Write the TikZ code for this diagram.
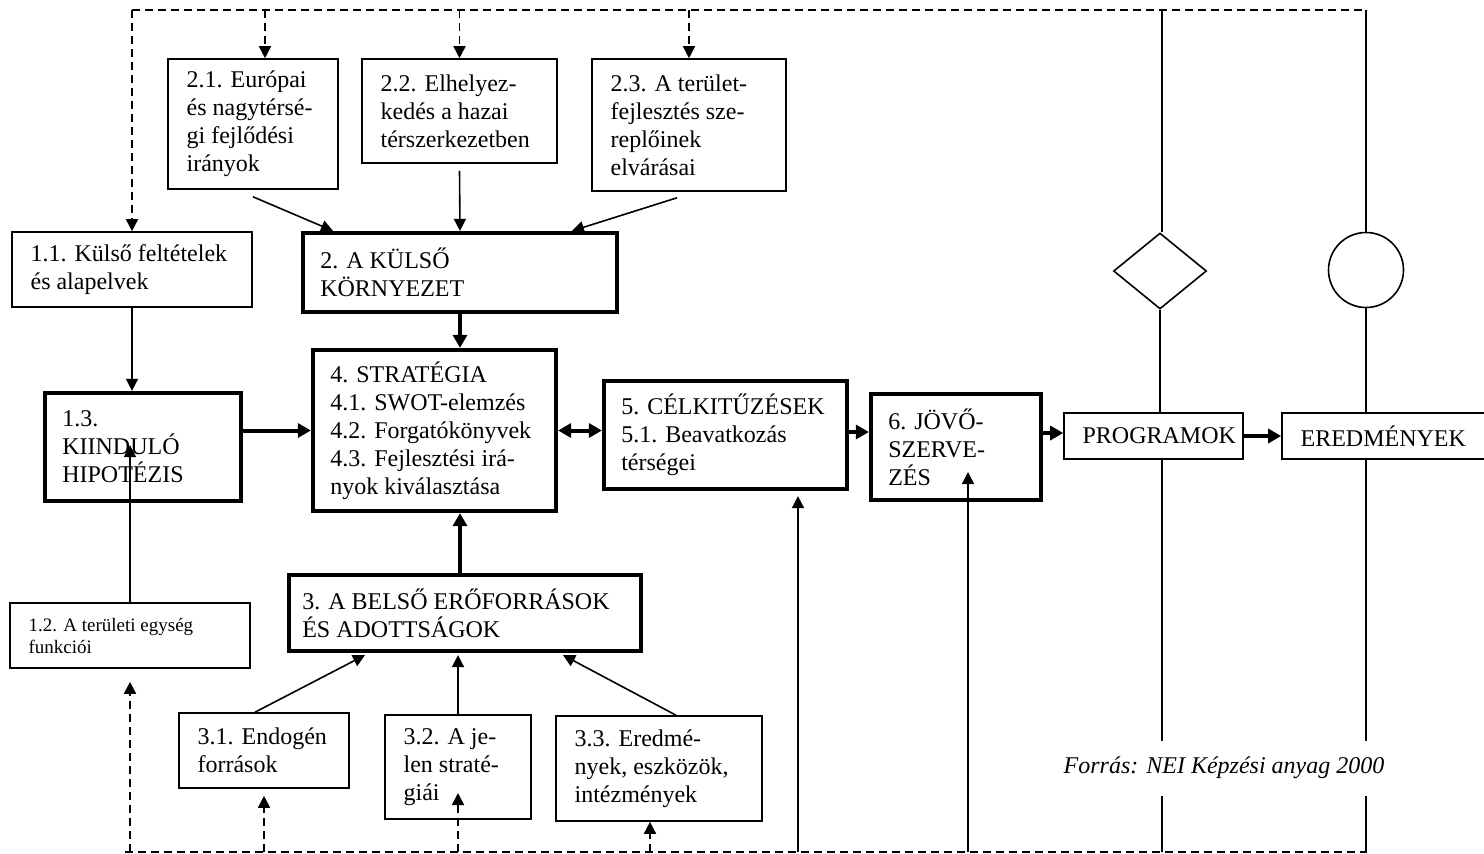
\documentclass[tikz,border=0pt]{standalone}
\usepackage{fontspec}
\setmainfont{Liberation Serif}
\usetikzlibrary{arrows.meta,shapes.geometric,calc}

% \mkbox{style}{name}{x1}{y1}{x2}{y2}: an empty box spanning the given corners
\newcommand\mkbox[6]{%
  \pgfmathsetmacro\mkboxw{(#5-#3)*0.5}%
  \pgfmathsetmacro\mkboxh{(#6-#4)*0.5}%
  \node[#1, minimum width=\mkboxw pt, minimum height=\mkboxh pt] (#2) at ({(#3+#5)/2},{(#4+#6)/2}) {};}

\begin{document}
\begin{tikzpicture}[x=0.5pt,y=-0.5pt,
  thinbox/.style={draw, line width=0.8pt, inner sep=0pt, rectangle},
  thickbox/.style={draw, line width=2.1pt, inner sep=0pt, rectangle},
  txt/.style={anchor=west, align=left, inner sep=0pt, xshift=9.5pt,
              font=\fontsize{12}{14}\selectfont},
  smalltxt/.style={txt, font=\fontsize{9.5}{11}\selectfont},
  conn/.style={line width=0.8pt, -{Triangle[length=6pt,width=6pt]}},
  bus/.style={line width=0.8pt, dash pattern=on 4pt off 2.5pt},
  busarrow/.style={bus, -{Triangle[length=6pt,width=6pt]}},
  rail/.style={line width=0.8pt},
  flow/.style={line width=2pt, -{Triangle[length=6.5pt,width=7pt]}},
  flowboth/.style={line width=2pt, {Triangle[length=6.5pt,width=7pt]}-{Triangle[length=6.5pt,width=7pt]}}]

\useasboundingbox (0,0) rectangle (1484,853);

% ---- boxes ----
\mkbox{thinbox}{b21}{168}{59}{338}{189}
\mkbox{thinbox}{b22}{362}{59}{557}{163}
\mkbox{thinbox}{b23}{592}{59}{786}{191}
\mkbox{thinbox}{b11}{12}{232}{252}{307}
\mkbox{thickbox}{b2}{303}{233}{617}{312}
\mkbox{thickbox}{b13}{45}{393}{241}{501}
\mkbox{thickbox}{b4}{313}{350}{556}{511}
\mkbox{thickbox}{b5}{604}{381}{847}{489}
\mkbox{thickbox}{b6}{871}{394}{1041}{500}
\mkbox{thinbox}{bP}{1064}{413}{1243}{459}
\mkbox{thinbox}{bE}{1282}{413}{1490}{459}
\mkbox{thickbox}{b3}{289}{575}{641}{651}
\mkbox{thinbox}{b12}{10}{603}{250}{668}
\mkbox{thinbox}{b31}{179}{713}{349}{788}
\mkbox{thinbox}{b32}{385}{715}{531}{819}
\mkbox{thinbox}{b33}{556}{716}{762}{821}

% ---- box texts ----
\node[txt] (t21) at (b21.west) {2.1. Európai\\és nagytérsé-\\gi fejlődési\\irányok};
\node[txt] (t22) at (b22.west) {2.2. Elhelyez-\\kedés a hazai\\térszerkezetben};
\node[txt] (t23) at (b23.west) {2.3. A terület-\\fejlesztés sze-\\replőinek\\elvárásai};
\node[txt] (t11) at (b11.west) {1.1. Külső feltételek\\és alapelvek};
\node[txt] (t2)  at (b2.west)  {2. A KÜLSŐ\\KÖRNYEZET};
\node[txt] (t13) at (b13.west) {1.3.\\KIINDULÓ\\HIPOTÉZIS};
\node[txt] (t4)  at (b4.west)  {4. STRATÉGIA\\4.1. SWOT-elemzés\\4.2. Forgatókönyvek\\4.3. Fejlesztési irá-\\nyok kiválasztása};
\node[txt] (t5)  at (b5.west)  {5. CÉLKITŰZÉSEK\\5.1. Beavatkozás\\térségei};
\node[txt] (t6)  at (b6.west)  {6. JÖVŐ-\\SZERVE-\\ZÉS};
\node[txt] (tP)  at (bP.west)  {PROGRAMOK};
\node[txt] (tE)  at (bE.west)  {EREDMÉNYEK};
\node[txt, xshift=-2pt] (t3) at (b3.west) {3. A BELSŐ ERŐFORRÁSOK\\ÉS ADOTTSÁGOK};
\node[smalltxt] (t12) at (b12.west) {1.2. A területi egység\\funkciói};
\node[txt] (t31) at (b31.west) {3.1. Endogén\\források};
\node[txt] (t32) at (b32.west) {3.2. A je-\\len straté-\\giái};
\node[txt] (t33) at (b33.west) {3.3. Eredmé-\\nyek, eszközök,\\intézmények};

% ---- symbols on the two right-hand rails ----
\node[draw, line width=0.8pt, diamond, inner sep=0pt, minimum width=46.5pt, minimum height=38pt] (dia) at (1160,271) {};
\node[draw, line width=0.8pt, circle, inner sep=0pt, minimum size=37.5pt] (circ) at (1366,270) {};

% ---- bus ends ----
\coordinate (topL) at (132,10);
\coordinate (topR) at (1367,10);
\coordinate (botL) at (125,852);
\coordinate (botR) at (1367,852);
\coordinate (railA) at (1162,10);
\coordinate (railB) at (1366,10);

% top feedback bus
\draw[bus] (topL) -- (topR);
\draw[busarrow] (topL) -- (topL |- b11.north);
\coordinate (tap21) at (265,10);
\draw[busarrow] (tap21) -- (tap21 |- b21.north);
\draw[busarrow] (b22.north |- topL) -- (b22.north);
\draw[busarrow] (b23.north |- topL) -- (b23.north);

% bottom feedback bus
\draw[bus] (botL) -- (botR);
\coordinate (u12) at (130,852);
\draw[busarrow] (u12) -- ($(u12 |- b12.south)+(0,13)$);
\draw[busarrow] (b31.south |- botL) -- ($(b31.south)+(0,7)$);
\coordinate (u32tip) at (458,793);
\draw[busarrow] (b32.south |- botL) -- (u32tip);
\coordinate (u33) at (650,852);
\draw[busarrow] (u33) -- (u33 |- b33.south);

% solid returns from the bottom bus
\coordinate (u5) at (798,852);
\draw[conn] (u5) -- ($(u5 |- b5.south)+(0,5)$);
\coordinate (u6) at (968,852);
\coordinate (u6tip) at (968,472);
\draw[conn] (u6) -- (u6tip);

% rails through programme and results
\draw[rail] (railA) -- (railA |- dia.north);
\draw[rail] (dia.south) -- (dia.south |- bP.north);
\draw[rail] (railA |- bP.south) -- (railA |- botL);
\draw[rail] (railB) -- (circ.north);
\draw[rail] (circ.south) -- (circ.south |- bE.north);
\draw[rail] (railB |- bE.south) -- (railB |- botL);

% inputs to the external environment
\draw[conn] ($(b21.south)+(0,7)$) -- ($(b2.north)+(-127,0)$);
\draw[conn] ($(b22.south)+(0,7)$) -- (b2.north);
\draw[conn] ($(b23.south)+(-12,6)$) -- ($(b2.north)+(112,0)$);

% inputs to the internal resources
\draw[conn] ($(b31.north)+(-9,0)$) -- ($(b3.south)+(-100,2)$);
\draw[conn] (b32.north) -- ($(b3.south)+(-7,2)$);
\draw[conn] ($(b33.north)+(17,0)$) -- ($(b3.south)+(98,2)$);

% starting hypothesis
\draw[conn] (b11.south) -- (b11.south |- b13.north);
\coordinate (tip13) at ($(b12.north |- b13.south)+(0,-58)$);
\draw[conn] (b12.north) -- (tip13);

% main flow
\draw[flow] (b2.south) -- (b2.south |- b4.north);
\draw[flow] (b2.south |- b3.north) -- (b2.south |- b4.south);
\draw[flow] (b13.east |- b4.west) -- (b4.west);
\draw[flowboth] (b4.east) -- (b4.east -| b5.west);
\draw[flow] ($(b5.east)+(0,-3)$) -- ($(b5.east -| b6.west)+(0,-3)$);
\draw[flow] ($(b6.east |- bP.west)+(0,-3)$) -- ($(bP.west)+(0,-3)$);
\draw[flow] (bP.east) -- (bE.west);

% source line
\node[fill=white, inner xsep=3pt, minimum height=27.5pt,
      font=\fontsize{12}{14}\selectfont\itshape] (src) at (1224,768) {Forrás: NEI Képzési anyag 2000};

\end{tikzpicture}
\end{document}
